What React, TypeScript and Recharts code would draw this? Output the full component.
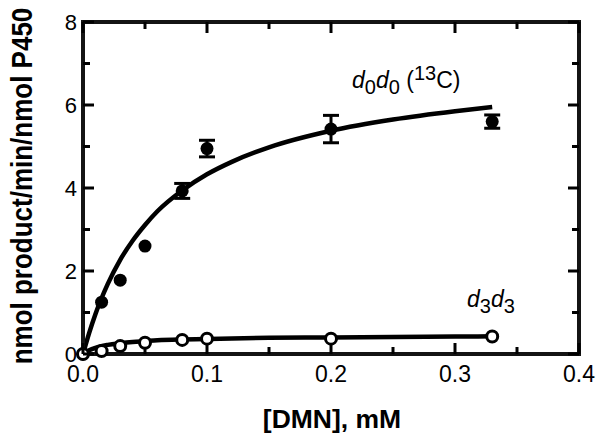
import React from 'react';
import { ComposedChart, Line, Scatter, XAxis, YAxis, ErrorBar, Customized } from 'recharts';

const FONT = '"Liberation Sans", Arial, Helvetica, sans-serif';
const W = 602;
const H = 438;
const MARGIN = { top: 22, right: 23, bottom: 0, left: 0 };
const Y_AXIS_W = 83;
const X_AXIS_H = 84;
const INK = '#141414';

// axis ticks (minor ticks in between the labelled ones)
const xTicks = [0, 0.05, 0.1, 0.15, 0.2, 0.25, 0.3, 0.35, 0.4];
const yTicks = [0, 1, 2, 3, 4, 5, 6, 7, 8];

// d0d0 (13C) measured points
const d0X = [0, 0.015, 0.03, 0.05, 0.08, 0.1, 0.2, 0.33];
const d0Y = [0, 1.25, 1.78, 2.6, 3.93, 4.95, 5.42, 5.6];
const d0Err = [0, 0, 0, 0, 0.18, 0.2, 0.33, 0.16];

// d3d3 measured points
const d3X = [0, 0.015, 0.03, 0.05, 0.08, 0.1, 0.2, 0.33];
const d3Y = [0, 0.07, 0.19, 0.27, 0.34, 0.37, 0.37, 0.42];
const d3Err = [0, 0, 0, 0, 0, 0, 0.05, 0];

// fitted curves
const fitX = [0, 0.005, 0.01, 0.02, 0.03, 0.04, 0.05, 0.06, 0.08, 0.1, 0.12, 0.15, 0.2, 0.25, 0.3, 0.33];
const fitD0 = [0, 0.51, 0.96, 1.69, 2.27, 2.73, 3.11, 3.44, 3.94, 4.33, 4.63, 4.98, 5.38, 5.65, 5.85, 5.95];
const fitD3 = [0, 0.09, 0.15, 0.22, 0.26, 0.29, 0.31, 0.33, 0.35, 0.36, 0.375, 0.39, 0.4, 0.41, 0.42, 0.425];

const d0Plain = d0X.map((x, i) => ({ x, y: d0Y[i] })).filter((_, i) => !d0Err[i]);
const d0WithErr = d0X.map((x, i) => ({ x, y: d0Y[i], err: d0Err[i] })).filter((p) => p.err > 0);
const d3Plain = d3X.map((x, i) => ({ x, y: d3Y[i] })).filter((_, i) => !d3Err[i]);
const d3WithErr = d3X.map((x, i) => ({ x, y: d3Y[i], err: d3Err[i] })).filter((p) => p.err > 0);
const fitD0Data = fitX.map((x, i) => ({ x, y: fitD0[i] }));
const fitD3Data = fitX.map((x, i) => ({ x, y: fitD3[i] }));

const MAJOR = 11;
const MINOR = 7;
// plot box, from the chart layout above
const PLOT_LEFT = MARGIN.left + Y_AXIS_W;
const PLOT_TOP = MARGIN.top;
const PLOT_RIGHT = W - MARGIN.right;
const PLOT_BOTTOM = H - MARGIN.bottom - X_AXIS_H;

// bottom tick + label, plus the matching tick on the top edge
const BottomTick = (props: any) => {
  const { x, y, payload, index } = props;
  const len = index % 2 === 0 ? MAJOR : MINOR;
  return (
    <g>
      <line x1={x} x2={x} y1={y} y2={y - len} stroke="#000" strokeWidth={3} />
      <line x1={x} x2={x} y1={PLOT_TOP} y2={PLOT_TOP + len} stroke="#000" strokeWidth={3} />
      {index % 2 === 0 && (
        <text x={x} y={y + 28} textAnchor="middle" fontSize={23} fontFamily={FONT} fill="#000">
          {payload.value.toFixed(1)}
        </text>
      )}
    </g>
  );
};

// left tick + label, plus the matching tick on the right edge
const LeftTick = (props: any) => {
  const { x, y, payload, index } = props;
  const len = index % 2 === 0 ? MAJOR : MINOR;
  return (
    <g>
      <line x1={x} x2={x + len} y1={y} y2={y} stroke="#000" strokeWidth={3} />
      <line x1={PLOT_RIGHT} x2={PLOT_RIGHT - len} y1={y} y2={y} stroke="#000" strokeWidth={3} />
      {index % 2 === 0 && (
        <text x={x - 6} y={y + 8} textAnchor="end" fontSize={22} fontFamily={FONT} fill="#000">
          {payload.value}
        </text>
      )}
    </g>
  );
};

const Labels = () => (
  <g fontFamily={FONT} fill="#000">
    <rect
      x={PLOT_LEFT}
      y={PLOT_TOP}
      width={PLOT_RIGHT - PLOT_LEFT}
      height={PLOT_BOTTOM - PLOT_TOP}
      fill="none"
      stroke={INK}
      strokeWidth={4}
    />
    <text
      x={0}
      y={0}
      transform="translate(32,186) rotate(-90) scale(1,1.15)"
      textAnchor="middle"
      fontSize={26}
      fontWeight="bold"
    >
      nmol product/min/nmol P450
    </text>
    <text x={332} y={428} textAnchor="middle" fontSize={26.5} fontWeight="bold">
      [DMN], mM
    </text>
    <text x={352} y={88} fontSize={23}>
      <tspan fontStyle="italic">d</tspan>
      <tspan fontSize={20} dy={6}>0</tspan>
      <tspan fontStyle="italic" dy={-6}>d</tspan>
      <tspan fontSize={20} dy={6}>0</tspan>
      <tspan dy={-6}> (</tspan>
      <tspan fontSize={20} dy={-8}>13</tspan>
      <tspan dy={8}>C)</tspan>
    </text>
    <text x={467} y={307} fontSize={23}>
      <tspan fontStyle="italic">d</tspan>
      <tspan fontSize={20} dy={6}>3</tspan>
      <tspan fontStyle="italic" dy={-6}>d</tspan>
      <tspan fontSize={20} dy={6}>3</tspan>
    </text>
  </g>
);

const FilledDot = (props: any) => <circle cx={props.cx} cy={props.cy} r={6.5} fill="#000" />;
const OpenDot = (props: any) => (
  <circle cx={props.cx} cy={props.cy} r={5.5} fill="#fff" stroke="#000" strokeWidth={3} />
);

export default function App() {
  return (
    <div style={{ position: 'absolute', left: 0, top: 0, width: W, height: H, background: '#fff' }}>
      <ComposedChart width={W} height={H} margin={MARGIN}>
        <XAxis
          xAxisId="b"
          dataKey="x"
          type="number"
          domain={[0, 0.4]}
          ticks={xTicks}
          interval={0}
          height={X_AXIS_H}
          axisLine={{ stroke: INK, strokeWidth: 4 }}
          tickLine={false}
          tickSize={0}
          tickMargin={0}
          tick={<BottomTick />}
        />
        <YAxis
          yAxisId="l"
          type="number"
          domain={[0, 8]}
          ticks={yTicks}
          interval={0}
          width={Y_AXIS_W}
          axisLine={{ stroke: INK, strokeWidth: 4 }}
          tickLine={false}
          tickSize={0}
          tickMargin={0}
          tick={<LeftTick />}
        />
        <Line
          xAxisId="b"
          yAxisId="l"
          data={fitD0Data}
          dataKey="y"
          type="monotone"
          stroke="#000"
          strokeWidth={4.5}
          dot={false}
          activeDot={false}
          isAnimationActive={false}
        />
        <Line
          xAxisId="b"
          yAxisId="l"
          data={fitD3Data}
          dataKey="y"
          type="monotone"
          stroke="#000"
          strokeWidth={4.5}
          dot={false}
          activeDot={false}
          isAnimationActive={false}
        />
        <Scatter xAxisId="b" yAxisId="l" data={d0Plain} dataKey="y" shape={<FilledDot />} isAnimationActive={false} />
        <Scatter xAxisId="b" yAxisId="l" data={d0WithErr} dataKey="y" shape={<FilledDot />} isAnimationActive={false}>
          <ErrorBar dataKey="err" direction="y" width={8} stroke="#000" strokeWidth={3} isAnimationActive={false} />
        </Scatter>
        <Scatter xAxisId="b" yAxisId="l" data={d3WithErr} dataKey="y" shape={<OpenDot />} isAnimationActive={false}>
          <ErrorBar dataKey="err" direction="y" width={5} stroke="#000" strokeWidth={2} isAnimationActive={false} />
        </Scatter>
        <Scatter xAxisId="b" yAxisId="l" data={d3Plain} dataKey="y" shape={<OpenDot />} isAnimationActive={false} />
        <Customized component={Labels} />
      </ComposedChart>
    </div>
  );
}
